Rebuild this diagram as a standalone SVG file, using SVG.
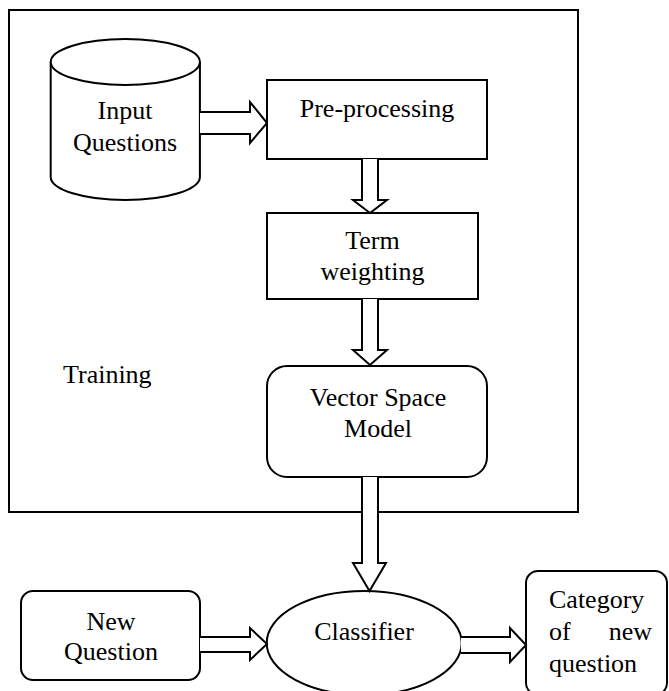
<svg xmlns="http://www.w3.org/2000/svg" width="669" height="691" viewBox="0 0 669 691">
  <style>
    .shape { fill: #fff; stroke: #000; stroke-width: 2; }
    .frame { fill: none; stroke: #000; stroke-width: 2; }
    .arrow { fill: #fff; stroke: #000; stroke-width: 2; stroke-linejoin: miter; }
    text { font-family: "Liberation Serif", "Times New Roman", serif; font-size: 26px; fill: #000; }
    .c { text-anchor: middle; }
  </style>
  <rect width="669" height="691" fill="#fff"/>

  <!-- Training frame -->
  <g id="training">
    <rect class="frame" x="9" y="10" width="569" height="502"/>
    <text x="63" y="383">Training</text>
  </g>

  <g id="input-questions">
    <path class="shape" d="M50.7,62 L50.7,177 A74.6,23 0 0 0 199.9,177 L199.9,62"/>
    <ellipse class="shape" cx="125.3" cy="62" rx="74.6" ry="23"/>
    <text class="c" x="125" y="119">Input</text>
    <text class="c" x="125" y="151">Questions</text>
  </g>

  <g id="pre-processing">
    <rect class="shape" x="267" y="80" width="220" height="79"/>
    <text class="c" x="377" y="117">Pre-processing</text>
  </g>

  <g id="term-weighting">
    <rect class="shape" x="267" y="213" width="211" height="86"/>
    <text class="c" x="372.5" y="249">Term</text>
    <text class="c" x="372.5" y="280">weighting</text>
  </g>

  <g id="vector-space-model">
    <rect class="shape" x="267" y="366" width="220" height="111" rx="20" ry="20"/>
    <text class="c" x="378" y="406">Vector Space</text>
    <text class="c" x="378" y="437">Model</text>
  </g>

  <g id="new-question">
    <rect class="shape" x="21" y="591" width="179" height="89" rx="12" ry="12"/>
    <text class="c" x="111" y="630">New</text>
    <text class="c" x="111" y="660">Question</text>
  </g>

  <g id="classifier">
    <ellipse class="shape" cx="364.2" cy="643" rx="97.5" ry="52"/>
    <text class="c" x="364" y="640">Classifier</text>
  </g>

  <g id="category">
    <rect class="shape" x="526" y="571" width="141" height="124" rx="12" ry="12"/>
    <text x="549" y="608">Category</text>
    <text x="549" y="640">of</text>
    <text x="652" y="640" text-anchor="end">new</text>
    <text x="549" y="672">question</text>
  </g>

  <!-- Block arrows -->
  <g id="connectors">
    <path class="arrow" d="M200,112 L250,112 L250,102 L267,123 L250,143 L250,134 L200,134"/>
    <path class="arrow" d="M362,159 L362,200 L353,200 L370,213 L387,200 L378,200 L378,159"/>
    <path class="arrow" d="M362,299 L362,350 L353,350 L370,365 L387,350 L378,350 L378,299"/>
    <path class="arrow" d="M362,477 L362,563 L353,563 L369.5,591 L386,563 L378,563 L378,477"/>
    <path class="arrow" d="M200,637 L250,637 L250,628 L267,644 L250,660 L250,652 L200,652"/>
    <path class="arrow" d="M461,637 L510,637 L510,628 L526,645 L510,662 L510,653 L461,653"/>
  </g>
</svg>
